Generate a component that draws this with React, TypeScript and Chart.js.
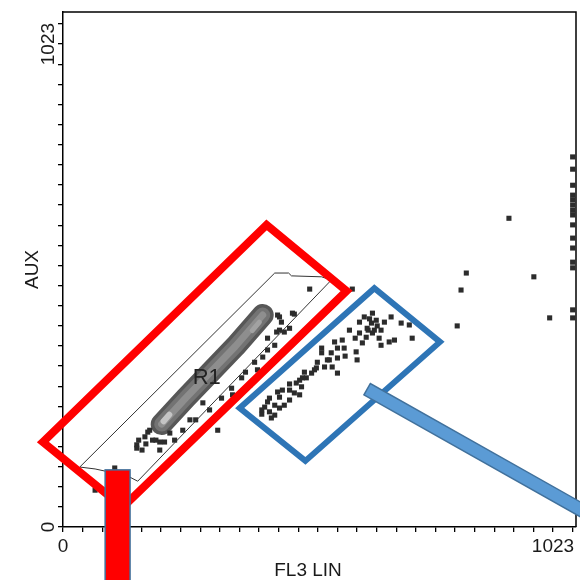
import React, { useEffect, useRef } from "react";
import { Chart, registerables } from "chart.js";

Chart.register(...registerables);

// Axis ranges (channels)
const X_MAX = 1071;
const Y_MAX = 1091;
const X_TICK_INTERVALS = 25;
const Y_TICK_INTERVALS = 24;
const TICK_LABEL_VALUES = [0, 1023];
const TICK_LABELS = ["0", "1023"];
const X_TITLE = "FL3 LIN";
const Y_TITLE = "AUX";
const GATE_LABEL = "R1";

// Individual events (FL3 LIN, AUX)
const eventsX = [
  515, 448, 483, 473, 446, 417, 406, 373, 323, 223, 181, 171, 154, 154, 177, 67, 292, 187, 202, 108,
  452, 442, 427, 390, 354, 265, 233, 165, 202,
  456, 427, 400, 381, 352, 331, 306, 277, 250, 212, 194, 173, 158,
  619, 629, 646, 644, 619, 633, 646, 625, 664, 685, 723, 729, 681, 664, 598, 583, 567, 573, 560, 540,
  540, 612, 614, 573, 546, 562, 529, 519, 573, 508, 494, 487, 498, 473, 458, 452, 431, 473, 442, 421,
  431, 452, 462, 452, 479, 604, 650, 635, 654, 671, 552, 589, 531, 483, 415, 442, 504, 706, 692,
  640, 656, 637, 660, 610, 587, 556, 525, 500, 473, 448, 427, 415, 435, 462, 494,
  931, 842, 983, 831, 1016, 823,
  1064, 1064, 1064, 1064, 1064, 1064, 1064, 1064, 1064, 1064, 1064, 1064, 1064, 1064, 1064,
];
const eventsY = [
  504, 449, 451, 421, 413, 360, 333, 316, 205, 199, 205, 191, 174, 167, 201, 78, 263, 184, 163, 125,
  417, 385, 375, 301, 280, 227, 184, 163, 180,
  434, 400, 349, 328, 294, 273, 248, 227, 205, 180, 184, 176, 184,
  434, 445, 453, 432, 411, 402, 411, 390, 417, 445, 428, 400, 392, 385, 417, 396, 392, 379, 369, 379,
  369, 371, 354, 358, 339, 339, 337, 326, 326, 316, 311, 305, 297, 290, 290, 275, 273, 269, 258, 254,
  244, 252, 413, 445, 453, 504, 417, 421, 438, 434, 354, 362, 349, 284, 239, 237, 328, 432, 396,
  441, 426, 417, 400, 400, 379, 354, 333, 316, 303, 286, 265, 248, 231, 258, 280,
  654, 538, 530, 502, 443, 426,
  784, 758, 724, 703, 693, 682, 671, 661, 640, 612, 591, 561, 549, 460, 443,
];

// Dense population ridge (R1 core)
const ridgeX = [206, 256, 308, 360, 417];
const ridgeY = [218, 273, 328, 383, 449];
const brightLowX = [210, 222];
const brightLowY = [224, 238];
const brightHighX = [395, 410];
const brightHighY = [416, 434];

// R1 gate polygon
const gateX = [35, 442, 471, 477, 540, 560, 156, 135, 67];
const gateY = [127, 538, 538, 532, 530, 523, 97, 108, 123];

// Annotation shapes (in channel units)
const redBoxX = [-42, 425, 592, 125];
const redBoxY = [180, 640, 500, 42];
const blueBoxX = [369, 650, 787, 506];
const blueBoxY = [252, 506, 392, 140];
const redBarX = [88, 140];
const redBarY = [-115, 121];
const blueBarX = [635, 1119];
const blueBarY = [292, 15];

const FONT = '"Liberation Sans", Arial, sans-serif';

const pts = (xs: number[], ys: number[]) => xs.map((x, i) => ({ x, y: ys[i] }));

const overlay = {
  id: "overlay",
  afterDatasetsDraw(chart: any) {
    const { ctx, scales } = chart;
    const sx = (v: number) => scales.x.getPixelForValue(v);
    const sy = (v: number) => scales.y.getPixelForValue(v);
    ctx.save();
    ctx.beginPath();
    gateX.forEach((x, i) => {
      const px = sx(x), py = sy(gateY[i]);
      if (i === 0) ctx.moveTo(px, py); else ctx.lineTo(px, py);
    });
    ctx.closePath();
    ctx.strokeStyle = "#333";
    ctx.lineWidth = 1;
    ctx.stroke();
    ctx.fillStyle = "#222";
    ctx.font = `22px ${FONT}`;
    ctx.textAlign = "center";
    ctx.textBaseline = "middle";
    ctx.fillText(GATE_LABEL, sx(300), sy(316));
    ctx.restore();
  },
  afterDraw(chart: any) {
    const { ctx, scales, chartArea } = chart;
    const sx = (v: number) => scales.x.getPixelForValue(v);
    const sy = (v: number) => scales.y.getPixelForValue(v);
    ctx.save();
    ctx.strokeStyle = "#000";
    ctx.lineWidth = 1.5;
    ctx.beginPath();
    ctx.moveTo(chartArea.left, chartArea.top);
    ctx.lineTo(chartArea.right, chartArea.top);
    ctx.lineTo(chartArea.right, chartArea.bottom);
    ctx.stroke();

    ctx.fillStyle = "#1a1a1a";
    ctx.font = `19px ${FONT}`;
    ctx.textAlign = "center";
    ctx.textBaseline = "alphabetic";
    TICK_LABEL_VALUES.forEach((v, i) => {
      ctx.fillText(TICK_LABELS[i], sx(v), chartArea.bottom + 25);
    });
    TICK_LABEL_VALUES.forEach((v, i) => {
      ctx.save();
      ctx.translate(chartArea.left - 9, sy(v));
      ctx.rotate(-Math.PI / 2);
      ctx.fillText(TICK_LABELS[i], 0, 0);
      ctx.restore();
    });
    ctx.fillText(X_TITLE, (sx(0) + sx(1023)) / 2, 576);
    ctx.save();
    ctx.translate(38, (chartArea.top + chartArea.bottom) / 2);
    ctx.rotate(-Math.PI / 2);
    ctx.fillText(Y_TITLE, 0, 0);
    ctx.restore();

    const poly = (xs: number[], ys: number[]) => {
      ctx.beginPath();
      xs.forEach((x, i) => {
        const px = sx(x), py = sy(ys[i]);
        if (i === 0) ctx.moveTo(px, py); else ctx.lineTo(px, py);
      });
      ctx.closePath();
    };
    ctx.lineJoin = "miter";
    poly(redBoxX, redBoxY);
    ctx.strokeStyle = "#FF0000";
    ctx.lineWidth = 8;
    ctx.stroke();
    poly(blueBoxX, blueBoxY);
    ctx.strokeStyle = "#2E75B6";
    ctx.lineWidth = 6;
    ctx.stroke();

    const rx0 = sx(redBarX[0]), rx1 = sx(redBarX[1]);
    const ry0 = sy(redBarY[1]), ry1 = sy(redBarY[0]);
    ctx.fillStyle = "#FF0000";
    ctx.fillRect(rx0, ry0, rx1 - rx0, ry1 - ry0);
    ctx.strokeStyle = "#41719C";
    ctx.lineWidth = 1.5;
    ctx.strokeRect(rx0, ry0, rx1 - rx0, ry1 - ry0);

    const p0x = sx(blueBarX[0]), p0y = sy(blueBarY[0]);
    const p1x = sx(blueBarX[1]), p1y = sy(blueBarY[1]);
    const len = Math.hypot(p1x - p0x, p1y - p0y);
    const dx = (p1x - p0x) / len, dy = (p1y - p0y) / len;
    const h = 6.5;
    const nx = -dy * h, ny = dx * h;
    ctx.beginPath();
    ctx.moveTo(p0x + nx, p0y + ny);
    ctx.lineTo(p1x + nx, p1y + ny);
    ctx.lineTo(p1x - nx, p1y - ny);
    ctx.lineTo(p0x - nx, p0y - ny);
    ctx.closePath();
    ctx.fillStyle = "#5B9BD5";
    ctx.fill();
    ctx.strokeStyle = "#41719C";
    ctx.lineWidth = 1.5;
    ctx.stroke();
    ctx.restore();
  },
};

export default function App() {
  const ref = useRef<HTMLCanvasElement>(null);
  useEffect(() => {
    const xStep = 1023 / X_TICK_INTERVALS;
    const yStep = 1023 / Y_TICK_INTERVALS;
    const xTicks: number[] = [];
    for (let v = 0; v <= X_MAX + 0.001; v += xStep) xTicks.push(v);
    const yTicks: number[] = [];
    for (let v = 0; v <= Y_MAX + 0.001; v += yStep) yTicks.push(v);

    const ridgeLayer = (color: string, width: number, xs: number[], ys: number[]) => ({
      data: pts(xs, ys),
      showLine: true,
      borderColor: color,
      borderWidth: width,
      borderCapStyle: "round" as const,
      borderJoinStyle: "round" as const,
      pointRadius: 0,
      fill: false,
    });

    const axisCommon = {
      type: "linear" as const,
      ticks: { display: false },
      grid: {
        display: true,
        drawOnChartArea: false,
        drawTicks: true,
        tickLength: 5,
        color: "#000",
        lineWidth: 1.3,
      },
      border: { display: true, color: "#000", width: 1.5 },
    };

    const chart = new Chart(ref.current!, {
      type: "scatter",
      data: {
        datasets: [
          {
            data: pts(eventsX, eventsY),
            pointStyle: "rect",
            pointRadius: 3.6,
            backgroundColor: "#2c2c2c",
            borderWidth: 0,
            showLine: false,
          } as any,
          ridgeLayer("#c4c4c4", 6, brightLowX, brightLowY),
          ridgeLayer("#a2a2a2", 5, brightHighX, brightHighY),
          ridgeLayer("#8e8e8e", 7, ridgeX, ridgeY),
          ridgeLayer("#737373", 15, ridgeX, ridgeY),
          ridgeLayer("#575757", 22, ridgeX, ridgeY),
        ],
      },
      options: {
        responsive: false,
        animation: false,
        devicePixelRatio: 1,
        layout: { padding: { left: 0, top: 12, right: 3, bottom: 0 } },
        plugins: { legend: { display: false }, tooltip: { enabled: false } },
        scales: {
          x: {
            ...axisCommon,
            min: 0,
            max: X_MAX,
            afterBuildTicks: (s: any) => {
              s.ticks = xTicks.map((value) => ({ value }));
            },
            afterFit: (s: any) => {
              s.height = 53;
            },
          },
          y: {
            ...axisCommon,
            min: 0,
            max: Y_MAX,
            afterBuildTicks: (s: any) => {
              s.ticks = yTicks.map((value) => ({ value }));
            },
            afterFit: (s: any) => {
              s.width = 63;
            },
          },
        },
      } as any,
      plugins: [overlay],
    });
    return () => chart.destroy();
  }, []);
  return (
    <div style={{ position: "absolute", left: 0, top: 0, width: 580, height: 580, background: "#fff" }}>
      <canvas ref={ref} width={580} height={580} style={{ display: "block", width: 580, height: 580 }} />
    </div>
  );
}
